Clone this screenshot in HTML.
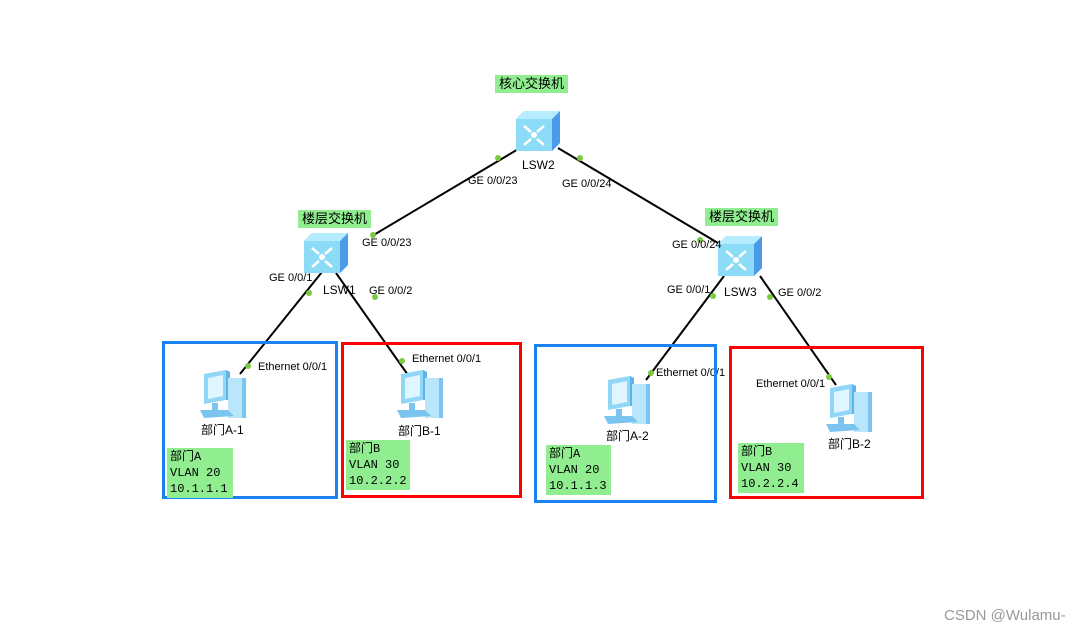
<!DOCTYPE html>
<html><head><meta charset="utf-8"><style>
body{margin:0;width:1072px;height:635px;background:#fff;position:relative;overflow:hidden;font-family:"Liberation Sans","Noto Sans CJK SC",sans-serif}
.t{position:absolute;background:#90ee90;font-size:13px;line-height:18px;padding:0 4px;color:#000}
.l{position:absolute;font-size:11px;color:#000;white-space:nowrap}
.n{position:absolute;font-size:12px;color:#000;white-space:nowrap}
.g{position:absolute;background:#90ee90;font-family:"Liberation Mono","Noto Sans CJK SC",monospace;font-size:12px;line-height:16px;padding:1px 3px;color:#000}
.b{position:absolute;box-sizing:border-box;border:3px solid}
</style></head><body>
<svg width="1072" height="635" style="position:absolute;left:0;top:0">
<defs>
<g id="sw"><path d="M0 8 L8 0 L44 0 L44 32 L36 40 L0 40Z" fill="#7fd4f5"/><path d="M36 8 L44 0 L44 32 L36 40Z" fill="#4a9be8"/><path d="M0 8 L8 0 L44 0 L36 8Z" fill="#b6ecff"/><rect x="0" y="8" width="36" height="32" fill="#8ddcf7"/>
<g stroke="#fff" stroke-width="2.5" fill="none"><path d="M8 15 L15 21 M28 15 L21 21 M8 34 L15 28 M28 34 L21 28"/></g><circle cx="18" cy="24" r="3" fill="#fff"/></g>
<g id="pc"><path d="M8 4 L30 0 L30 30 L8 34Z" fill="#8fd6f7"/><path d="M12 8 L27 5 L27 26 L12 29Z" fill="#dff5ff"/><path d="M30 0 L34 2 L34 30 L30 30Z" fill="#5fb2ea"/><rect x="32" y="8" width="18" height="40" fill="#b9e6fb"/><rect x="46" y="8" width="4" height="40" fill="#7cc4f0"/><path d="M4 40 L32 40 L38 46 L8 48Z" fill="#7cc4f0"/><rect x="16" y="33" width="6" height="7" fill="#7cc4f0"/></g>
</defs>
<g stroke="#000" stroke-width="2">
<line x1="372" y1="236" x2="520" y2="148"/><line x1="558" y1="148" x2="718" y2="243"/>
<line x1="322" y1="272" x2="240" y2="374"/><line x1="336" y1="273" x2="408" y2="375"/>
<line x1="724" y1="276" x2="646" y2="380"/><line x1="760" y1="276" x2="836" y2="385"/>
</g>
<g fill="#7ac943"><circle cx="498" cy="158" r="3"/><circle cx="373" cy="235" r="3"/><circle cx="580" cy="158" r="3"/><circle cx="700" cy="240" r="3"/>
<circle cx="309" cy="293" r="3"/><circle cx="248" cy="366" r="3"/><circle cx="375" cy="297" r="3"/><circle cx="402" cy="361" r="3"/>
<circle cx="713" cy="296" r="3"/><circle cx="651" cy="373" r="3"/><circle cx="770" cy="297" r="3"/><circle cx="829" cy="377" r="3"/></g>
<use href="#sw" x="516" y="111"/><use href="#sw" x="304" y="233"/><use href="#sw" x="718" y="236"/>
<use href="#pc" x="196" y="370"/><use href="#pc" x="393" y="370"/><use href="#pc" x="600" y="376"/><use href="#pc" x="822" y="384"/>
</svg>
<div class="t" style="left:495px;top:75px">核心交换机</div>
<div class="t" style="left:298px;top:210px">楼层交换机</div>
<div class="t" style="left:705px;top:208px">楼层交换机</div>
<div class="n" style="left:522px;top:158px">LSW2</div>
<div class="n" style="left:323px;top:283px">LSW1</div>
<div class="n" style="left:724px;top:285px">LSW3</div>
<div class="l" style="left:468px;top:175px">GE 0/0/23</div>
<div class="l" style="left:562px;top:178px">GE 0/0/24</div>
<div class="l" style="left:362px;top:237px">GE 0/0/23</div>
<div class="l" style="left:672px;top:239px">GE 0/0/24</div>
<div class="l" style="left:269px;top:272px">GE 0/0/1</div>
<div class="l" style="left:369px;top:285px">GE 0/0/2</div>
<div class="l" style="left:667px;top:284px">GE 0/0/1</div>
<div class="l" style="left:778px;top:287px">GE 0/0/2</div>
<div class="l" style="left:258px;top:361px">Ethernet 0/0/1</div>
<div class="l" style="left:412px;top:353px">Ethernet 0/0/1</div>
<div class="l" style="left:656px;top:367px">Ethernet 0/0/1</div>
<div class="l" style="left:756px;top:378px">Ethernet 0/0/1</div>
<div class="b" style="left:162px;top:341px;width:176px;height:158px;border-color:#1a82f0"></div>
<div class="b" style="left:341px;top:342px;width:181px;height:156px;border-color:#f00"></div>
<div class="b" style="left:534px;top:344px;width:183px;height:159px;border-color:#1a82f0"></div>
<div class="b" style="left:729px;top:346px;width:195px;height:153px;border-color:#f00"></div>
<div class="n" style="left:201px;top:421px">部门A-1</div>
<div class="n" style="left:398px;top:422px">部门B-1</div>
<div class="n" style="left:606px;top:427px">部门A-2</div>
<div class="n" style="left:828px;top:435px">部门B-2</div>
<div class="g" style="left:167px;top:448px;width:60px">部门A<br>VLAN 20<br>10.1.1.1</div>
<div class="g" style="left:346px;top:440px;width:58px">部门B<br>VLAN 30<br>10.2.2.2</div>
<div class="g" style="left:546px;top:445px;width:59px">部门A<br>VLAN 20<br>10.1.1.3</div>
<div class="g" style="left:738px;top:443px;width:60px">部门B<br>VLAN 30<br>10.2.2.4</div>
<div class="n" style="left:944px;top:607px;font-size:15px;color:#999">CSDN @Wulamu-</div>
</body></html>
